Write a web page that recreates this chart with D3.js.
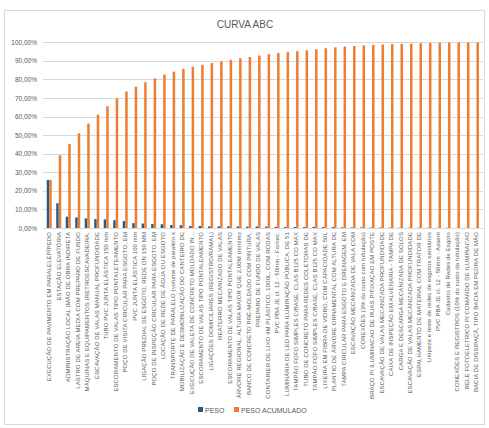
<!DOCTYPE html>
<html>
<head>
<meta charset="utf-8">
<script src="https://cdn.jsdelivr.net/npm/d3@7"></script>
<style>
  body { margin: 0; background: #fff; }
  text { font-family: "Liberation Sans", Arial, sans-serif; }
</style>
</head>
<body>
<div id="chart"></div>
<script>
var width = 489;
var height = 428;

var categories = [
    "EXECUÇÃO DE PAVIMENTO EM PARALELEPÍPEDO",
    "ESTAÇÃO ELEVATÓRIA",
    "ADMINISTRAÇÃO LOCAL (MÃO DE OBRA INDIRETA",
    "LASTRO DE AREIA MEDIA COM PREPARO DE FUNDO",
    "MÁQUINAS E EQUIPAMENTOS (RETROESCAVADEIRA,",
    "ESCAVAÇÃO DE VALAS MANUAL PROFUNDIDADE",
    "TUBO PVC JUNTA ELÁSTICA 150 mm",
    "ESCORAMENTO DE VALAS TIPO PONTALETEAMENTO",
    "POÇO DE VISITA CIRCULAR PARA ESGOTO, EM",
    "PVC JUNTA ELÁSTICA 100 mm",
    "LIGAÇÃO PREDIAL DE ESGOTO, REDE DN 150 MM",
    "POÇO DE INSPEÇÃO CIRCULAR PARA ESGOTO, EM",
    "LOCAÇÃO DE REDE DE ÁGUA OU ESGOTO",
    "TRANSPORTE DE PARALELO (volume de paralelo x",
    "MOBILIZAÇÃO E DESMOBILIZAÇÃO DO CANTEIRO DE",
    "EXECUÇÃO DE VALETA DE CONCRETO MOLDADO IN...",
    "ESCORAMENTO DE VALAS TIPO PONTALEAMENTO",
    "LIGAÇÕES DOMICILIARES (REGISTRO/RAMAL)",
    "REATERRO MECANIZADO DE VALAS",
    "ESCORAMENTO DE VALAS TIPO PONTALEAMENTO",
    "ÁRVORE REGIONAL, ALTURA MAIOR QUE 2,00M (mínimo",
    "BANCO DE CONCRETO PRÉ-MOLDADO COM PINTURA,",
    "PREPARO DE FUNDO DE VALAS",
    "CONTAINER DE LIXO 4M PLÁSTICO, 1000L, COM RODAS",
    "PVC PBA JE cl. 12 - 50mm - Fornec.",
    "LUMINÁRIA DE LED PARA ILUMINAÇÃO PÚBLICA, DE 51",
    "TAMPÃO FOFO SIMPLES C/BASE, CLAS B125 CO MAX",
    "TUBO DE CONCRETO PARA REDES COLETORAS DE",
    "TAMPÃO FOFO SIMPLES C/BASE, CLAS B125 CO MAX",
    "LIXEIRA EM FIBRA DE VIDRO, COM CAPACIDADE 50L",
    "PLANTIO DE ÁRVORE ORNAMENTAL COM ALTURA DE",
    "TAMPA CIRCULAR PARA ESGOTO E DRENAGEM, EM",
    "ESCAVAÇÃO MECANIZADA DE VALA COM",
    "CONEXÕES (3% do custo com tubulação)",
    "BRAÇO P/ ILUMINACAO DE RUAS P/FIXAÇAO EM POSTE",
    "ESCAVAÇÃO DE VALAS MECANIZADA PROFUNDIDADE",
    "CAIXA DE INSPEÇÃO EM ALVENARIA - TAMPA DE",
    "CARGA E DESCARGA MECANIZADA DE SOLOS",
    "ESCAVAÇÃO DE VALAS MECANIZADA PROFUNDIDADE",
    "ESPALHAMENTO DE MATERIAL COM TRATOR DE",
    "Limpeza e teste de redes de esgotos sanitários",
    "PVC PBA JE cl. 12 - 50mm - Assent",
    "Cadastro de Redes de Esgoto",
    "CONEXÕES E REGISTROS (10% do custo da tubulação)",
    "RELE FOTOELETRICO P/ COMANDO DE ILUMINACAO",
    "BACIA DE DISSIPAÇÃ, TIPO BACIA EM PEDRA DE MÃO"
];

// PESO (%)
var peso = [25.9, 13.3, 6.1, 5.7, 5.2, 4.8, 4.6, 4.2, 3.7, 2.6,
    2.4, 2.1, 2.0, 1.6, 1.5, 1.1, 1.1, 0.9, 0.9, 0.9,
    0.8, 0.7, 0.8, 0.7, 0.6, 0.5, 0.5, 0.5, 0.6, 0.5,
    0.5, 0.4, 0.3, 0.3, 0.25, 0.25, 0.2, 0.15, 0.15, 0.15,
    0.15, 0.1, 0.12, 0.08, 0.06, 0.04];

// PESO ACUMULADO (%)
var acumulado = [25.9, 39.2, 45.3, 51.0, 56.2, 61.0, 65.6, 69.8, 73.5, 76.1,
    78.5, 80.6, 82.6, 84.2, 85.7, 86.8, 87.9, 88.8, 89.7, 90.6,
    91.4, 92.1, 92.9, 93.6, 94.2, 94.7, 95.2, 95.7, 96.3, 96.8,
    97.3, 97.7, 98.0, 98.3, 98.55, 98.8, 99.0, 99.15, 99.3, 99.45,
    99.6, 99.7, 99.82, 99.9, 99.96, 100];

var yTicks = [0, 10, 20, 30, 40, 50, 60, 70, 80, 90, 100];

var seriesNames = ["PESO", "PESO ACUMULADO"];
var colors = ["#235b8c", "#ed7d31"];

var locale = d3.formatLocale({decimal: ",", thousands: ".", grouping: [3], currency: ["", ""]});
var fmt = locale.format(".2f");

var svg = d3.select("#chart").append("svg")
    .attr("width", width)
    .attr("height", height);

svg.append("rect")
    .attr("x", 4.5).attr("y", 10.5)
    .attr("width", 480).attr("height", 414)
    .attr("fill", "#fff")
    .attr("stroke", "#d9d9d9");

svg.append("text")
    .attr("x", 245).attr("y", 28)
    .attr("text-anchor", "middle")
    .attr("font-size", 10)
    .attr("fill", "#595959")
    .text("CURVA ABC");

var x = d3.scaleBand()
    .domain(d3.range(categories.length))
    .range([44.5, 481.2]);

var xSub = d3.scaleBand()
    .domain([0, 1])
    .range([x.bandwidth() / 2 - 2.5, x.bandwidth() / 2 + 2.5]);

var y = d3.scaleLinear()
    .domain([0, 100])
    .range([228, 42.3]);

// grid
svg.append("g")
    .selectAll("line")
    .data(yTicks)
    .enter().append("line")
    .attr("x1", 43).attr("x2", 483)
    .attr("y1", function (d) { return Math.round(y(d)) + 0.5; })
    .attr("y2", function (d) { return Math.round(y(d)) + 0.5; })
    .attr("stroke", "#d9d9d9")
    .attr("stroke-width", 1);

// y axis labels
var yAxis = d3.axisLeft(y)
    .tickValues(yTicks)
    .tickSize(0)
    .tickPadding(0)
    .tickFormat(function (d) { return fmt(d) + "%"; });

var yg = svg.append("g")
    .attr("transform", "translate(37,0)")
    .call(yAxis);
yg.select(".domain").remove();
yg.selectAll("text")
    .attr("font-size", 6.5)
    .attr("fill", "#595959")
    .attr("font-family", "Liberation Sans, Arial, sans-serif");

// bars
var groups = svg.append("g")
    .selectAll("g")
    .data(categories.map(function (c, i) { return [peso[i], acumulado[i]]; }))
    .enter().append("g")
    .attr("transform", function (d, i) { return "translate(" + x(i) + ",0)"; });

groups.selectAll("rect")
    .data(function (d) { return d; })
    .enter().append("rect")
    .attr("x", function (d, j) { return xSub(j); })
    .attr("width", xSub.bandwidth())
    .attr("y", function (d) { return y(d); })
    .attr("height", function (d) { return y(0) - y(d); })
    .attr("fill", function (d, j) { return colors[j]; });

// x axis
var xAxis = d3.axisBottom(x)
    .tickSize(0)
    .tickPadding(0)
    .tickFormat(function (i) { return categories[i]; });

var xg = svg.append("g")
    .attr("transform", "translate(0,228)")
    .call(xAxis);
xg.select(".domain")
    .attr("stroke", "#d9d9d9");
xg.selectAll("text")
    .attr("font-size", 6)
    .attr("letter-spacing", 0.1)
    .attr("fill", "#595959")
    .attr("font-family", "Liberation Sans, Arial, sans-serif")
    .attr("text-anchor", "end")
    .attr("dy", null)
    .attr("transform", "translate(2,4) rotate(-90)");

// legend
var legend = svg.append("g")
    .attr("transform", "translate(198,407)");

var legendX = [0, 36];
seriesNames.forEach(function (name, i) {
    legend.append("rect")
        .attr("x", legendX[i]).attr("y", 0)
        .attr("width", 5).attr("height", 5)
        .attr("fill", colors[i]);
    legend.append("text")
        .attr("x", legendX[i] + 7).attr("y", 5.5)
        .attr("font-size", 7)
        .attr("fill", "#595959")
        .text(name);
});
</script>
</body>
</html>
